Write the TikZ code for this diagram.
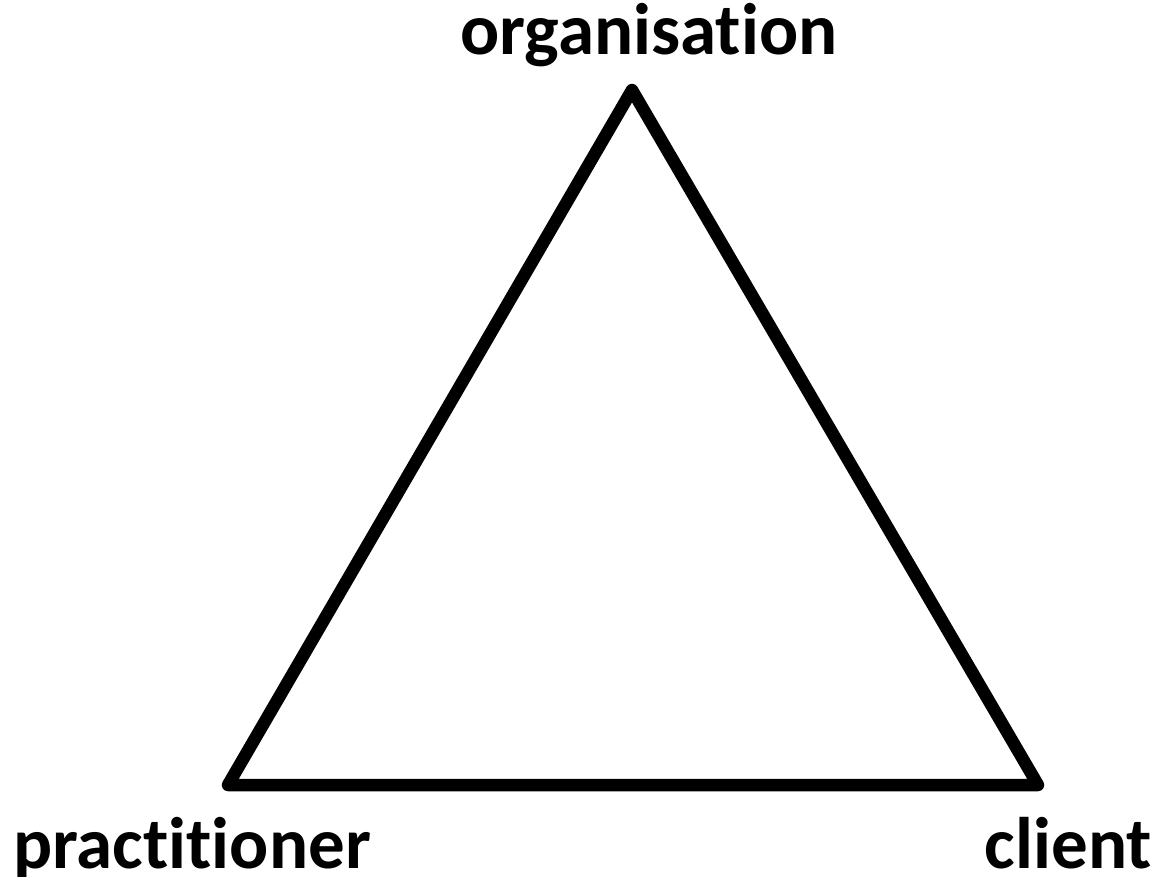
\documentclass[tikz,border=0pt]{standalone}
\usepackage{fontspec}
\setmainfont[Ligatures=NoCommon]{Carlito}
\begin{document}
\begin{tikzpicture}[x=1pt,y=-1pt,
    corner/.style={inner sep=0pt,anchor=base,font=\fontsize{73}{80}\selectfont\bfseries}]
    \useasboundingbox (0,0) rectangle (1156,877);
    \coordinate (top) at (632,90);
    \coordinate (left) at (228,785);
    \coordinate (right) at (1038,785);
    \draw [line width=12.5pt][line join=round] (top) -- (right) -- (left) -- cycle;
    \node[corner] (org) at (649,55) {organisation};
    \node[corner,anchor=base west] (prac) at (13,868) {practitioner};
    \node[corner,anchor=base east] (cli) at (1152,868) {client};
\end{tikzpicture}
\end{document}
